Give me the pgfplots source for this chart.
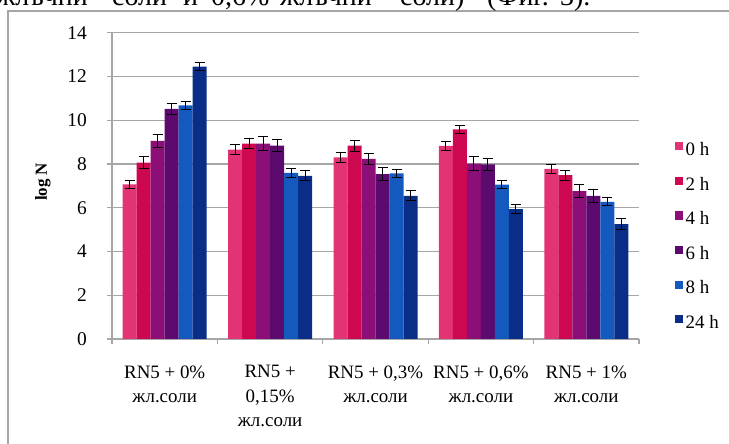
\documentclass[border=0pt]{standalone}
\usepackage{pgfplots}
\usepackage{pgfplotstable}
\pgfplotsset{compat=1.18}
\usepackage{fontspec}
\setmainfont{Liberation Serif}
\definecolor{c0}{HTML}{E23474}
\definecolor{c2}{HTML}{CE0850}
\definecolor{c4}{HTML}{8C0F78}
\definecolor{c6}{HTML}{5C0A6E}
\definecolor{c8}{HTML}{145ABE}
\definecolor{c24}{HTML}{0A2D87}
\definecolor{gridc}{HTML}{A6A6A6}
\pgfplotstableread{
x y e
0 7.07 0.18
1 8.66 0.21
2 8.30 0.24
3 8.83 0.21
4 7.78 0.20
}\tA
\pgfplotstableread{
x y e
0 8.06 0.26
1 8.93 0.24
2 8.84 0.25
3 9.58 0.20
4 7.49 0.23
}\tB
\pgfplotstableread{
x y e
0 9.05 0.30
1 8.93 0.32
2 8.23 0.27
3 8.02 0.32
4 6.76 0.30
}\tC
\pgfplotstableread{
x y e
0 10.52 0.25
1 8.84 0.27
2 7.53 0.30
3 7.98 0.26
4 6.54 0.28
}\tD
\pgfplotstableread{
x y e
0 10.68 0.17
1 7.59 0.21
2 7.57 0.18
3 7.06 0.20
4 6.27 0.18
}\tE
\pgfplotstableread{
x y e
0 12.45 0.20
1 7.46 0.22
2 6.54 0.23
3 5.94 0.20
4 5.25 0.24
}\tF
\begin{document}
\begin{tikzpicture}[x=1bp,y=1bp]
\useasboundingbox (0,0) rectangle (729,444);
\draw[gridc, line width=1.2bp] (8,-20) -- (8,433) -- (760,433);
\begin{scope}[font=\fontsize{28}{28}\selectfont]
\node[anchor=base west, inner sep=0] at (-4,438.5) {жлъчни};
\node[anchor=base west, inner sep=0] at (112,438.5) {соли};
\node[anchor=base west, inner sep=0] at (183,438.5) {и};
\node[anchor=base west, inner sep=0] at (211,438.5) {0,6\%};
\node[anchor=base west, inner sep=0] at (280,438.5) {жлъчни};
\node[anchor=base west, inner sep=0] at (400,438.5) {соли)};
\node[anchor=base west, inner sep=0] at (487,438.5) {(Фиг.};
\node[anchor=base west, inner sep=0] at (560,438.5) {3).};
\end{scope}
\begin{axis}[
  at={(112bp,105bp)}, anchor=south west,
  scale only axis, width=527bp, height=306.3bp,
  /pgf/number format/assume math mode=true,
  ybar=0pt, bar width=14bp,
  xmin=-0.5, xmax=4.5, ymin=0, ymax=14,
  axis x line*=bottom, axis y line*=left,
  axis line style={gridc, line width=1.2bp},
  ytick={0,2,...,14},
  xtick={0,1,2,3,4},
  xticklabels={{RN5 + 0\%\\жл.соли},{RN5 +\\0,15\%\\жл.соли},{RN5 + 0,3\%\\жл.соли},{RN5 + 0,6\%\\жл.соли},{RN5 + 1\%\\жл.соли}},
  minor xtick={-0.5,0.5,1.5,2.5,3.5,4.5},
  tick align=outside,
  major tick length=5bp, minor tick length=5bp,
  x tick style={draw=none},
  minor x tick style={draw=gridc, line width=1.2bp},
  y tick style={draw=gridc, line width=1.2bp},
  ymajorgrids, grid style={gridc, line width=1.2bp},
  yticklabel={\fontsize{19.5}{22}\selectfont\pgfmathprintnumber{\tick}},
  yticklabel style={anchor=east, inner sep=0pt},
  yticklabel shift=20bp,
  xticklabel style={font=\fontsize{19}{24.5}\selectfont, align=center, yshift=-18bp},
  ylabel={\textbf{log N}},
  ylabel style={at={(-0.131,0.513)}, anchor=center, font=\fontsize{17}{17}\selectfont},
  legend style={draw=none, fill=none, at={(1.0626,0.6497)}, anchor=north west,
    font=\fontsize{19}{19}\selectfont, row sep=21.3bp,
    nodes={inner sep=0pt, text height=12.5bp, text depth=0bp}},
  legend cell align=left,
  legend image code/.code={\fill[#1] (0bp,-1.25bp) rectangle (8.3bp,7.05bp); \path (0,0) -- (10.5bp,0);},
  error bars/y dir=both, error bars/y explicit,
  error bars/error bar style={black, line width=1bp},
  error bars/error mark options={black, line width=1bp, mark size=5bp, rotate=90},
]
\addplot[fill=c0, draw=none] table[x=x, y=y, y error=e] {\tA};
\addplot[fill=c2, draw=none] table[x=x, y=y, y error=e] {\tB};
\addplot[fill=c4, draw=none] table[x=x, y=y, y error=e] {\tC};
\addplot[fill=c6, draw=none] table[x=x, y=y, y error=e] {\tD};
\addplot[fill=c8, draw=none] table[x=x, y=y, y error=e] {\tE};
\addplot[fill=c24, draw=none] table[x=x, y=y, y error=e] {\tF};
\legend{0 h, 2 h, 4 h, 6 h, 8 h, 24 h}
\end{axis}
\end{tikzpicture}
\end{document}
